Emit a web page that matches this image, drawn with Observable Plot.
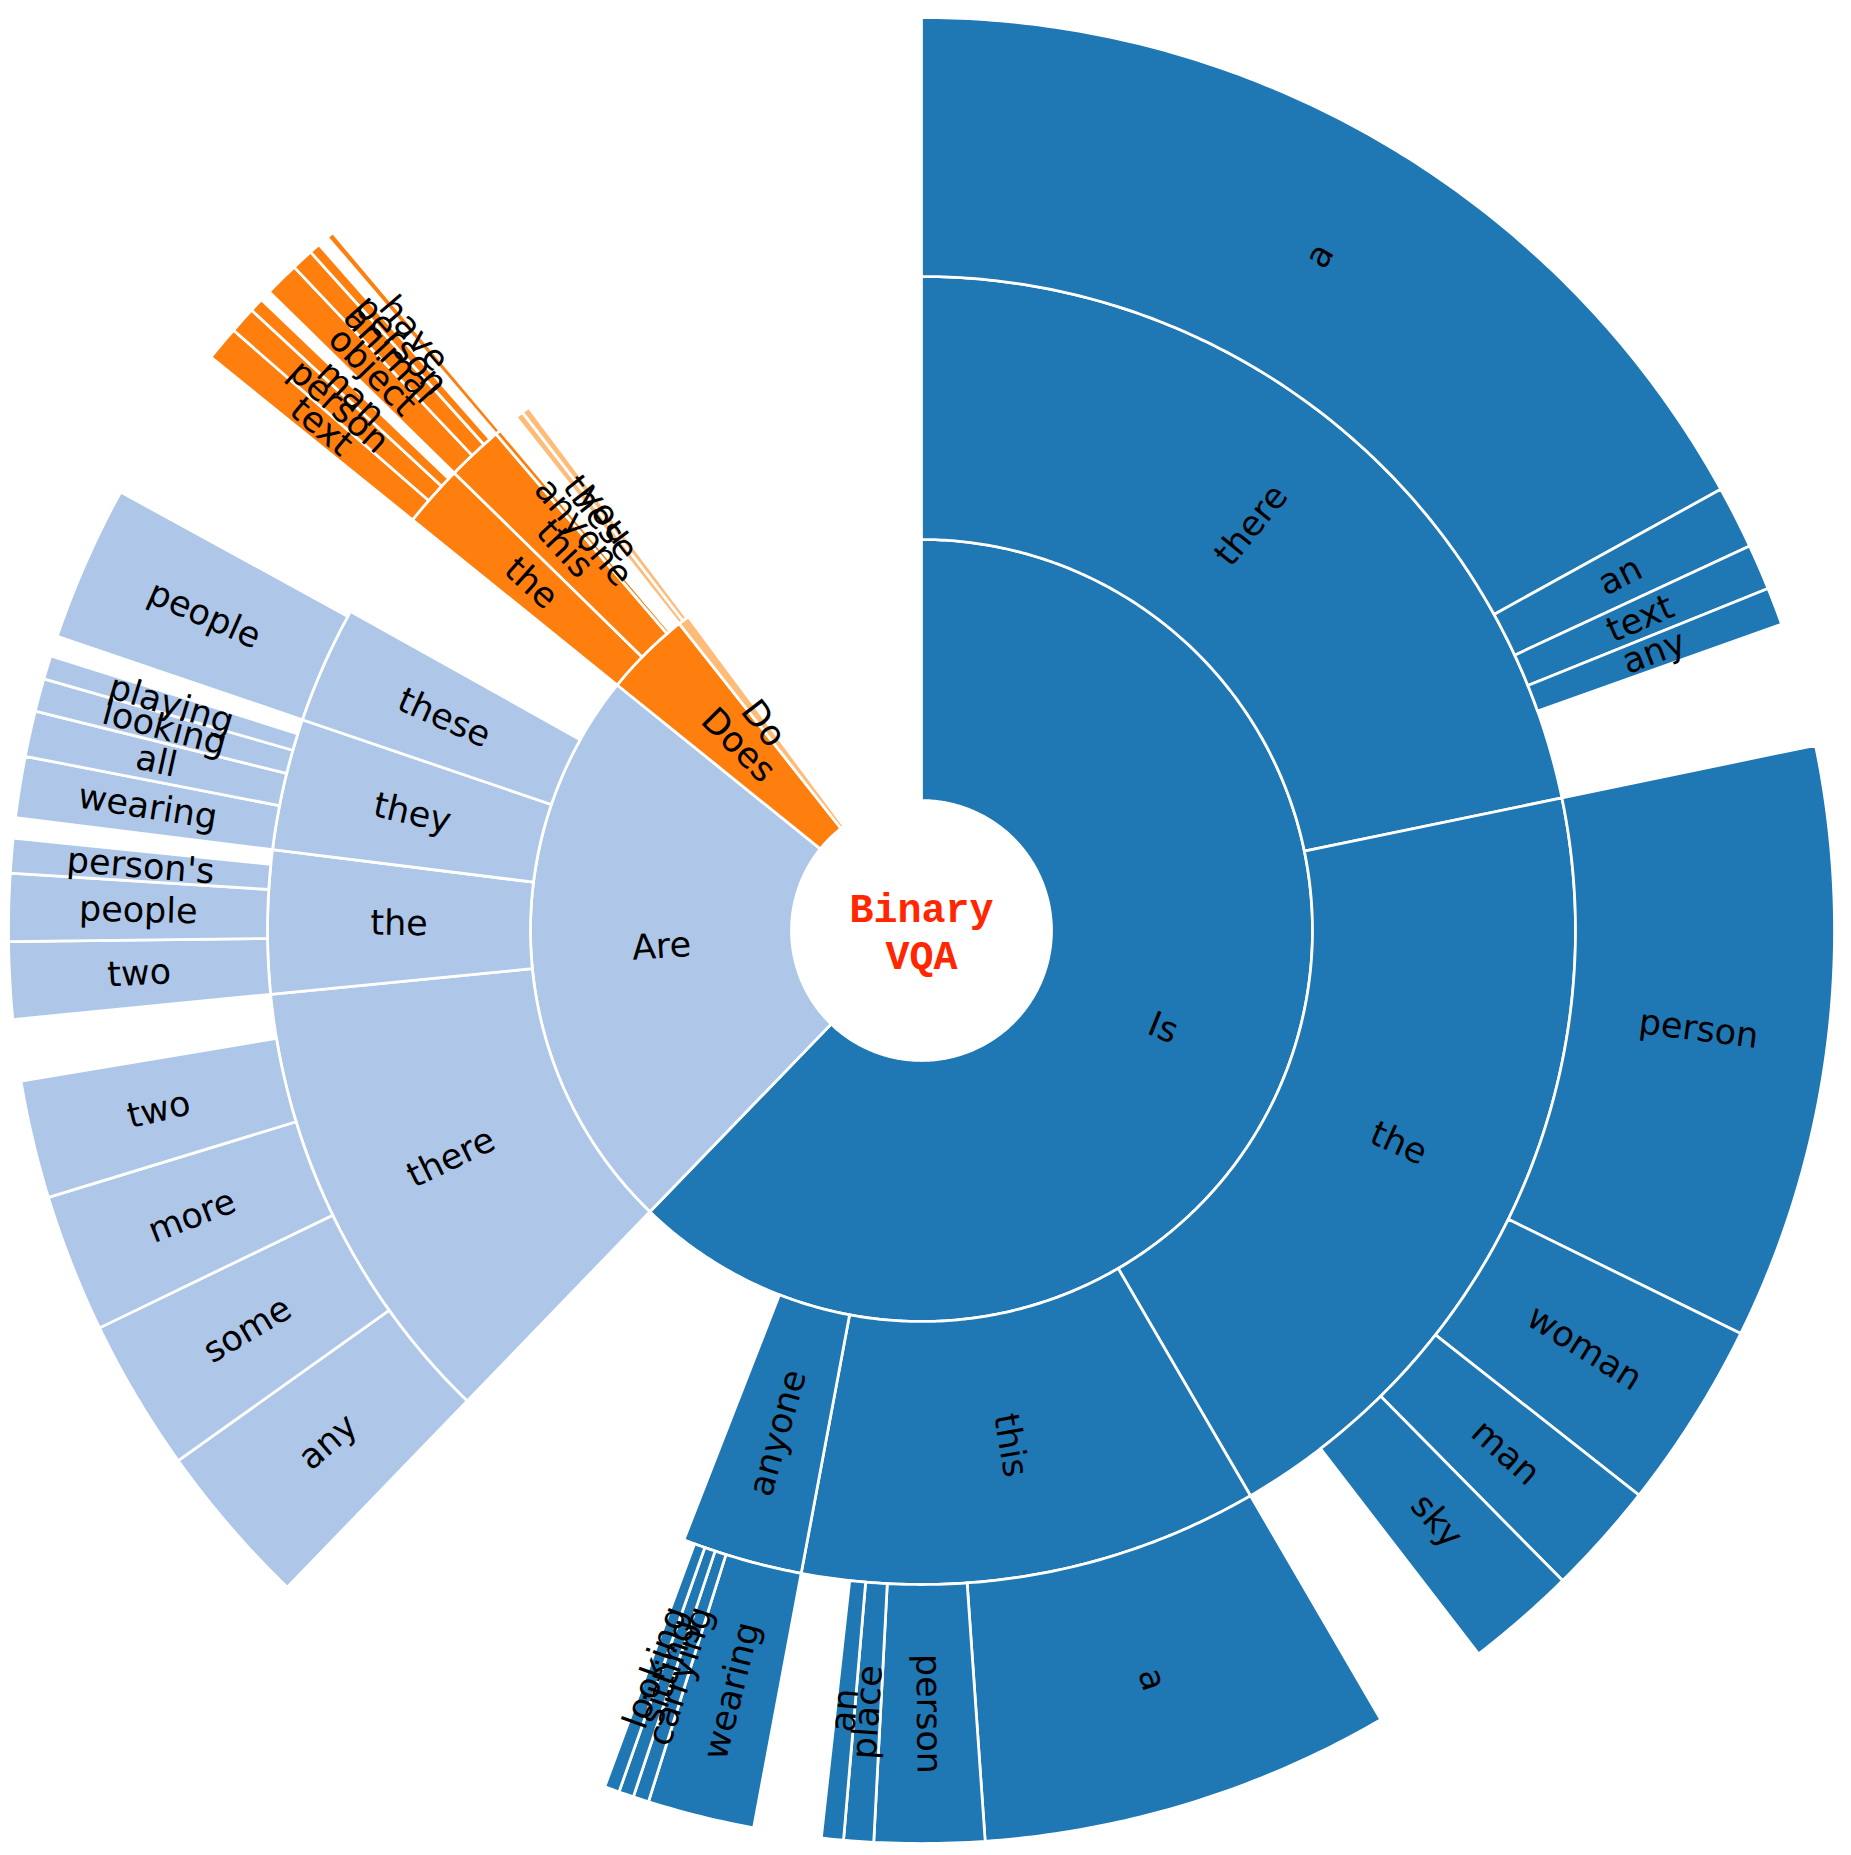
<!DOCTYPE html>
<html>
<head>
<meta charset="utf-8">
<script src="https://cdn.jsdelivr.net/npm/d3@7"></script>
<script src="https://cdn.jsdelivr.net/npm/@observablehq/plot@0.6"></script>
<style>
  html, body { margin: 0; padding: 0; background: #fff; }
</style>
</head>
<body>
<div id="chart"></div>
<script>
// ---- Data: angular share (degrees of the full circle) per question word ----
const centerTitle = "Binary\nVQA";

const level1Names = ["Is", "Are", "Does", "Do"];
const level1Deg   = [224.0, 84.9, 12.8, 1.7];
const level1Colors = ["#1f77b4", "#aec7e8", "#ff7f0e", "#ffbb78"];

const level2Names  = ["there", "the", "this", "anyone",
                      "there", "the", "they", "these",
                      "the", "this", "anyone",
                      "these", "you"];
const level2Parent = [0, 0, 0, 0, 1, 1, 1, 1, 2, 2, 2, 3, 3];
const level2Deg    = [78.3, 71.5, 40.8, 10.7,
                      40.4, 12.7, 11.7, 10.4,
                      5.5, 5.0, 0.5,
                      0.7, 0.7];

const level3Names  = ["a", "an", "text", "any",
                      "person", "woman", "man", "sky",
                      "a", "person", "place", "an",
                      "wearing", "carrying", "sitting", "looking",
                      "any", "some", "more", "two",
                      "two", "people", "person's",
                      "wearing", "all", "looking", "playing",
                      "people",
                      "text", "person", "man",
                      "object", "animal", "person",
                      "have"];
const level3Parent = [0, 0, 0, 0,
                      1, 1, 1, 1,
                      2, 2, 2, 2,
                      3, 3, 3, 3,
                      4, 4, 4, 4,
                      5, 5, 5,
                      6, 6, 6, 6,
                      7,
                      8, 8, 8,
                      9, 9, 9,
                      10];
const level3Deg    = [61.1, 4.0, 2.9, 2.4,
                      37.9, 12.0, 7.2, 7.0,
                      26.2, 7.0, 1.9, 1.4,
                      6.8, 1.0, 0.95, 0.95,
                      10.5, 9.7, 8.8, 7.5,
                      4.9, 4.3, 2.2,
                      3.9, 2.9, 2.1, 1.5,
                      9.9,
                      2.2, 1.7, 0.9,
                      2.2, 1.4, 0.7,
                      0.45];

// ring boundaries (layout)
const radii = [130, 391, 654, 913];

// ---- Layout: children placed consecutively from the parent's start angle ----
function layout(names, deg, parents, parentNodes, level) {
  const cursor = parentNodes ? parentNodes.map(p => p.start) : null;
  let a0 = 0;
  return names.map((name, i) => {
    let start, root;
    if (parentNodes) {
      const p = parents[i];
      start = cursor[p];
      cursor[p] += deg[i];
      root = parentNodes[p].root;
    } else {
      start = a0;
      a0 += deg[i];
      root = i;
    }
    return {id: `${level}-${i}`, name, level, root, start, end: start + deg[i]};
  });
}

const nodes1 = layout(level1Names, level1Deg, null, null, 1);
const nodes2 = layout(level2Names, level2Deg, level2Parent, nodes1, 2);
const nodes3 = layout(level3Names, level3Deg, level3Parent, nodes2, 3);
const nodes = [...nodes1, ...nodes2, ...nodes3];

const rad = Math.PI / 180;
const polyPts = [];
for (const n of nodes) {
  const r0 = radii[n.level - 1], r1 = radii[n.level];
  const steps = Math.max(2, Math.ceil((n.end - n.start) / 0.5));
  const fill = level1Colors[n.root];
  for (let k = 0; k <= steps; k++) {
    const t = (n.start + (n.end - n.start) * k / steps) * rad;
    polyPts.push({id: n.id, fill, x: r1 * Math.sin(t), y: r1 * Math.cos(t)});
  }
  for (let k = steps; k >= 0; k--) {
    const t = (n.start + (n.end - n.start) * k / steps) * rad;
    polyPts.push({id: n.id, fill, x: r0 * Math.sin(t), y: r0 * Math.cos(t)});
  }
}

const mid = d => (d.start + d.end) / 2;
const midR = d => (radii[d.level - 1] + radii[d.level]) / 2;
const labelRotate = d => {
  const m = mid(d);
  let r = m - 90;
  if (m > 180) r -= 180;
  return r;
};

const chart = Plot.plot({
  width: 1851,
  height: 1855,
  margin: 0,
  x: {domain: [-921, 930], axis: null},
  y: {domain: [-925, 930], axis: null},
  color: {type: "identity"},
  marks: [
    Plot.line(polyPts, {
      x: "x", y: "y", z: "id",
      fill: "fill",
      stroke: "white",
      strokeWidth: 2.75,
      curve: "linear-closed"
    }),
    Plot.text(nodes, {
      x: d => midR(d) * Math.sin(mid(d) * rad),
      y: d => midR(d) * Math.cos(mid(d) * rad),
      text: "name",
      rotate: labelRotate,
      fontSize: 35,
      fontFamily: "DejaVu Sans",
      fill: "black",
      textAnchor: "middle",
      lineAnchor: "middle"
    }),
    Plot.text([centerTitle], {
      x: () => 0,
      y: () => 0,
      text: d => d,
      fontSize: 40,
      fontWeight: "bold",
      fontFamily: "Liberation Mono",
      fill: "#ff2600",
      textAnchor: "middle",
      lineAnchor: "middle",
      lineHeight: 1.18
    })
  ]
});

document.getElementById("chart").appendChild(chart);
</script>
</body>
</html>
